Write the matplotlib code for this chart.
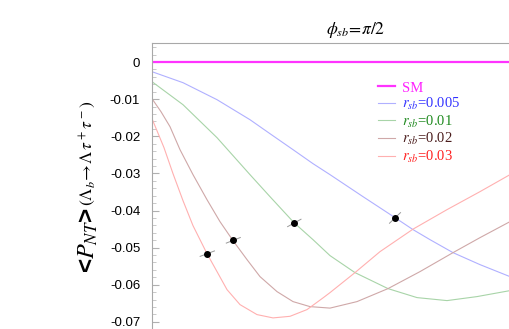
# POLARIZACION <P_NT> PARA Lambda_b -> Lambda tau+ tau-
# Curvas para distintos r_sb con phi_sb = pi/2

import numpy as np
import matplotlib.pyplot as plt

plt.rcParams['mathtext.fontset'] = 'stix'

# DATOS (eje x normalizado)

x_sm = [0.0, 1.14]
y_sm = [0.0, 0.0]

x_005 = [0.0, 0.0866, 0.1816, 0.2737, 0.3296, 0.3939, 0.4497, 0.4972,
         0.5894, 0.6788, 0.7291, 0.7765, 0.8408, 0.9162, 1.0]
y_005 = [-0.00261, -0.00557, -0.01015, -0.01554, -0.01931, -0.02361,
         -0.02738, -0.03034, -0.03627, -0.04192, -0.04515, -0.04785,
         -0.05135, -0.05458, -0.05781]

x_01 = [0.0, 0.0866, 0.1816, 0.2737, 0.3296, 0.3966, 0.4497, 0.4972,
        0.5670, 0.6592, 0.7402, 0.8240, 0.9078, 1.0]
y_01 = [-0.00530, -0.01150, -0.02038, -0.03034, -0.03627, -0.04327,
        -0.04785, -0.05215, -0.05673, -0.06104, -0.06346, -0.06427,
        -0.06319, -0.06158]

x_02 = [0.0, 0.0251, 0.0503, 0.0782, 0.1145, 0.1536, 0.1899, 0.2263,
        0.2654, 0.3017, 0.3492, 0.3939, 0.4413, 0.4972, 0.5726, 0.6592,
        0.7486, 0.8408, 0.9162, 1.0]
y_02 = [-0.00988, -0.01338, -0.01742, -0.02361, -0.03034, -0.03708,
        -0.04300, -0.04812, -0.05323, -0.05781, -0.06185, -0.06454,
        -0.06589, -0.06629, -0.06454, -0.06104, -0.05646, -0.05135,
        -0.04731, -0.04300]

x_03 = [0.0, 0.0335, 0.0587, 0.0866, 0.1145, 0.1536, 0.1816, 0.2095,
        0.2458, 0.2933, 0.3380, 0.3855, 0.4330, 0.4777, 0.4972, 0.5670,
        0.6369, 0.7291, 0.8240, 0.9162, 1.0]
y_03 = [-0.01527, -0.02307, -0.03008, -0.03735, -0.04408, -0.05162,
        -0.05646, -0.06131, -0.06535, -0.06804, -0.06893, -0.06850,
        -0.06669, -0.06354, -0.06212, -0.05673, -0.05108, -0.04502,
        -0.03977, -0.03492, -0.03034]

# PUNTOS CON BARRA INCLINADA
x_pts = [0.1545, 0.2271, 0.3975, 0.6788]
y_pts = [-0.05162, -0.04803, -0.04335, -0.04200]
dx_pts = [0.020, 0.0196, 0.0187, 0.0154]
dy_pts = [0.00073, 0.00075, 0.0010, 0.00143]

etiquetas = ["SM", r"$r_{sb}$=0.005", r"$r_{sb}$=0.01",
             r"$r_{sb}$=0.02", r"$r_{sb}$=0.03"]
colores_linea = ["#ff33ff", "#b0b0ff", "#a8d4a8", "#cfa8a8", "#ffb0b0"]
colores_texto = ["#ff22ff", "#3333ff", "#1f8a1f", "#4a1c1c", "#ff2020"]

# FIGURA
fig = plt.figure(figsize=(5.1, 3.29), dpi=100)
ax = fig.add_axes([152/510, 1 - 359/329, 408/510, (359 - 43)/329])

ax.plot(x_sm, y_sm, color=colores_linea[0], linewidth=1.6, label=etiquetas[0])
series = [(x_005, y_005), (x_01, y_01), (x_02, y_02), (x_03, y_03)]
for i, (xs, ys) in enumerate(series):
    ax.plot(xs, ys, color=colores_linea[i + 1], linewidth=0.8,
            label=etiquetas[i + 1])

for xp, yp, dx, dy in zip(x_pts, y_pts, dx_pts, dy_pts):
    ax.plot([xp - dx, xp + dx], [yp - dy, yp + dy], color="#999999",
            linewidth=0.7)
ax.plot(x_pts, y_pts, "o", color="black", markersize=4)

# EJES
ax.set_xlim(0, 408/358)
ax.set_ylim(-0.08, 0.00512)
ax.set_xticks([])
ax.set_yticks(np.arange(-0.07, 0.001, 0.01))
ax.set_yticks(np.arange(-0.08, 0.005, 0.002), minor=True)
ax.set_yticklabels(["-0.07", "-0.06", "-0.05", "-0.04", "-0.03",
                    "-0.02", "-0.01", "0"])
ax.tick_params(axis="y", which="major", direction="in", length=5,
               color="#b0b0b0", pad=8.5, labelsize=9.5)
ax.tick_params(axis="y", which="minor", direction="in", length=3,
               color="#c0c0c0")
for lab in ax.get_yticklabels():
    lab.set_family("Liberation Sans")
for s in ["left", "top"]:
    ax.spines[s].set_color("#a8a8a8")
    ax.spines[s].set_linewidth(0.8)
ax.spines["right"].set_visible(False)
ax.spines["bottom"].set_visible(False)

# LEYENDA
ley = ax.legend(loc="upper left", bbox_to_anchor=(371/510, 1 - 74/329),
                bbox_transform=fig.transFigure, frameon=False, borderpad=0,
                handlelength=1.15, handletextpad=0.5, labelspacing=0.1,
                prop={"family": "Liberation Serif", "size": 10.5},
                labelcolor=colores_texto)

# TITULO Y ETIQUETA
fig.text(356/510, 1 - 30/329, r"$\phi_{sb}\!=\!\pi/2$", ha="center",
         va="center", fontsize=12.5)
fig.text(88/510, 1 - 240/329, r"<$P_{NT}$>", rotation=90,
         ha="center", va="center", fontsize=17.5, fontweight="bold",
         family="Liberation Sans")
fig.text(88/510, 1 - 153/329,
         r"$(\mathit{\Lambda}_b\!\rightarrow\!\mathit{\Lambda}\,\tau^+\tau^-)$",
         rotation=90, ha="center", va="center", fontsize=12.5)

plt.savefig("out.png", dpi=100)
